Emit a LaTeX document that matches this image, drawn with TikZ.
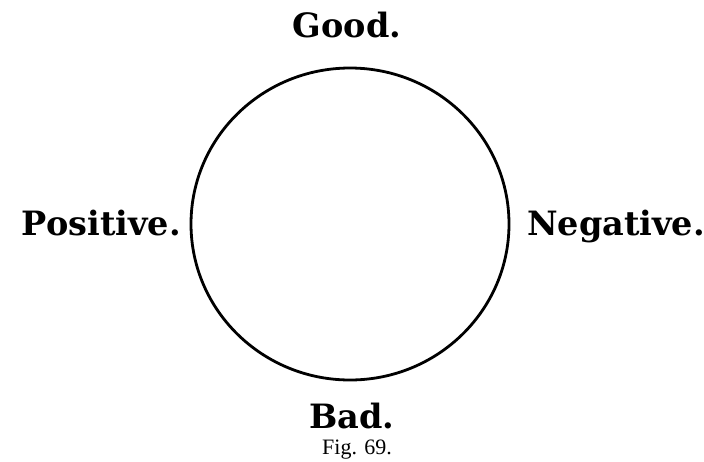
\documentclass[tikz,border=0pt]{standalone}
\usepackage{fontspec}
\setmainfont{Liberation Serif}
\newfontfamily\slabfont{DejaVu Serif}
\usepackage{tikz}
\usetikzlibrary{positioning, shapes.geometric}

\begin{document}
\begin{tikzpicture}[
  x=1pt, y=-1pt,
  every node/.style={align=center},
  ring/.style={draw, ellipse, line width=2.8pt, minimum width=318pt,
               minimum height=312pt, inner sep=0pt},
  pole/.style={inner sep=0pt, text depth=0pt,
               font=\slabfont\bfseries\fontsize{33.5}{37}\selectfont},
  caption/.style={inner sep=0pt, text height=15pt,
                  font=\fontsize{22}{25}\selectfont}
]
\useasboundingbox (0,0) rectangle (704,461);

\node[ring] (wheel) at (350,224) {};

\node[pole, anchor=base]      (good) at (347,37)  {Good.};
\node[pole, anchor=base east] (pos)  at (181,235) {Positive.};
\node[pole, anchor=base west] (neg)  at (527,235) {Negative.};
\node[pole, anchor=base]      (bad)  at (352,428) {Bad.};
\node[caption, anchor=base]   (fig)  at (357,454) {Fig. 69.};

\end{tikzpicture}
\end{document}
